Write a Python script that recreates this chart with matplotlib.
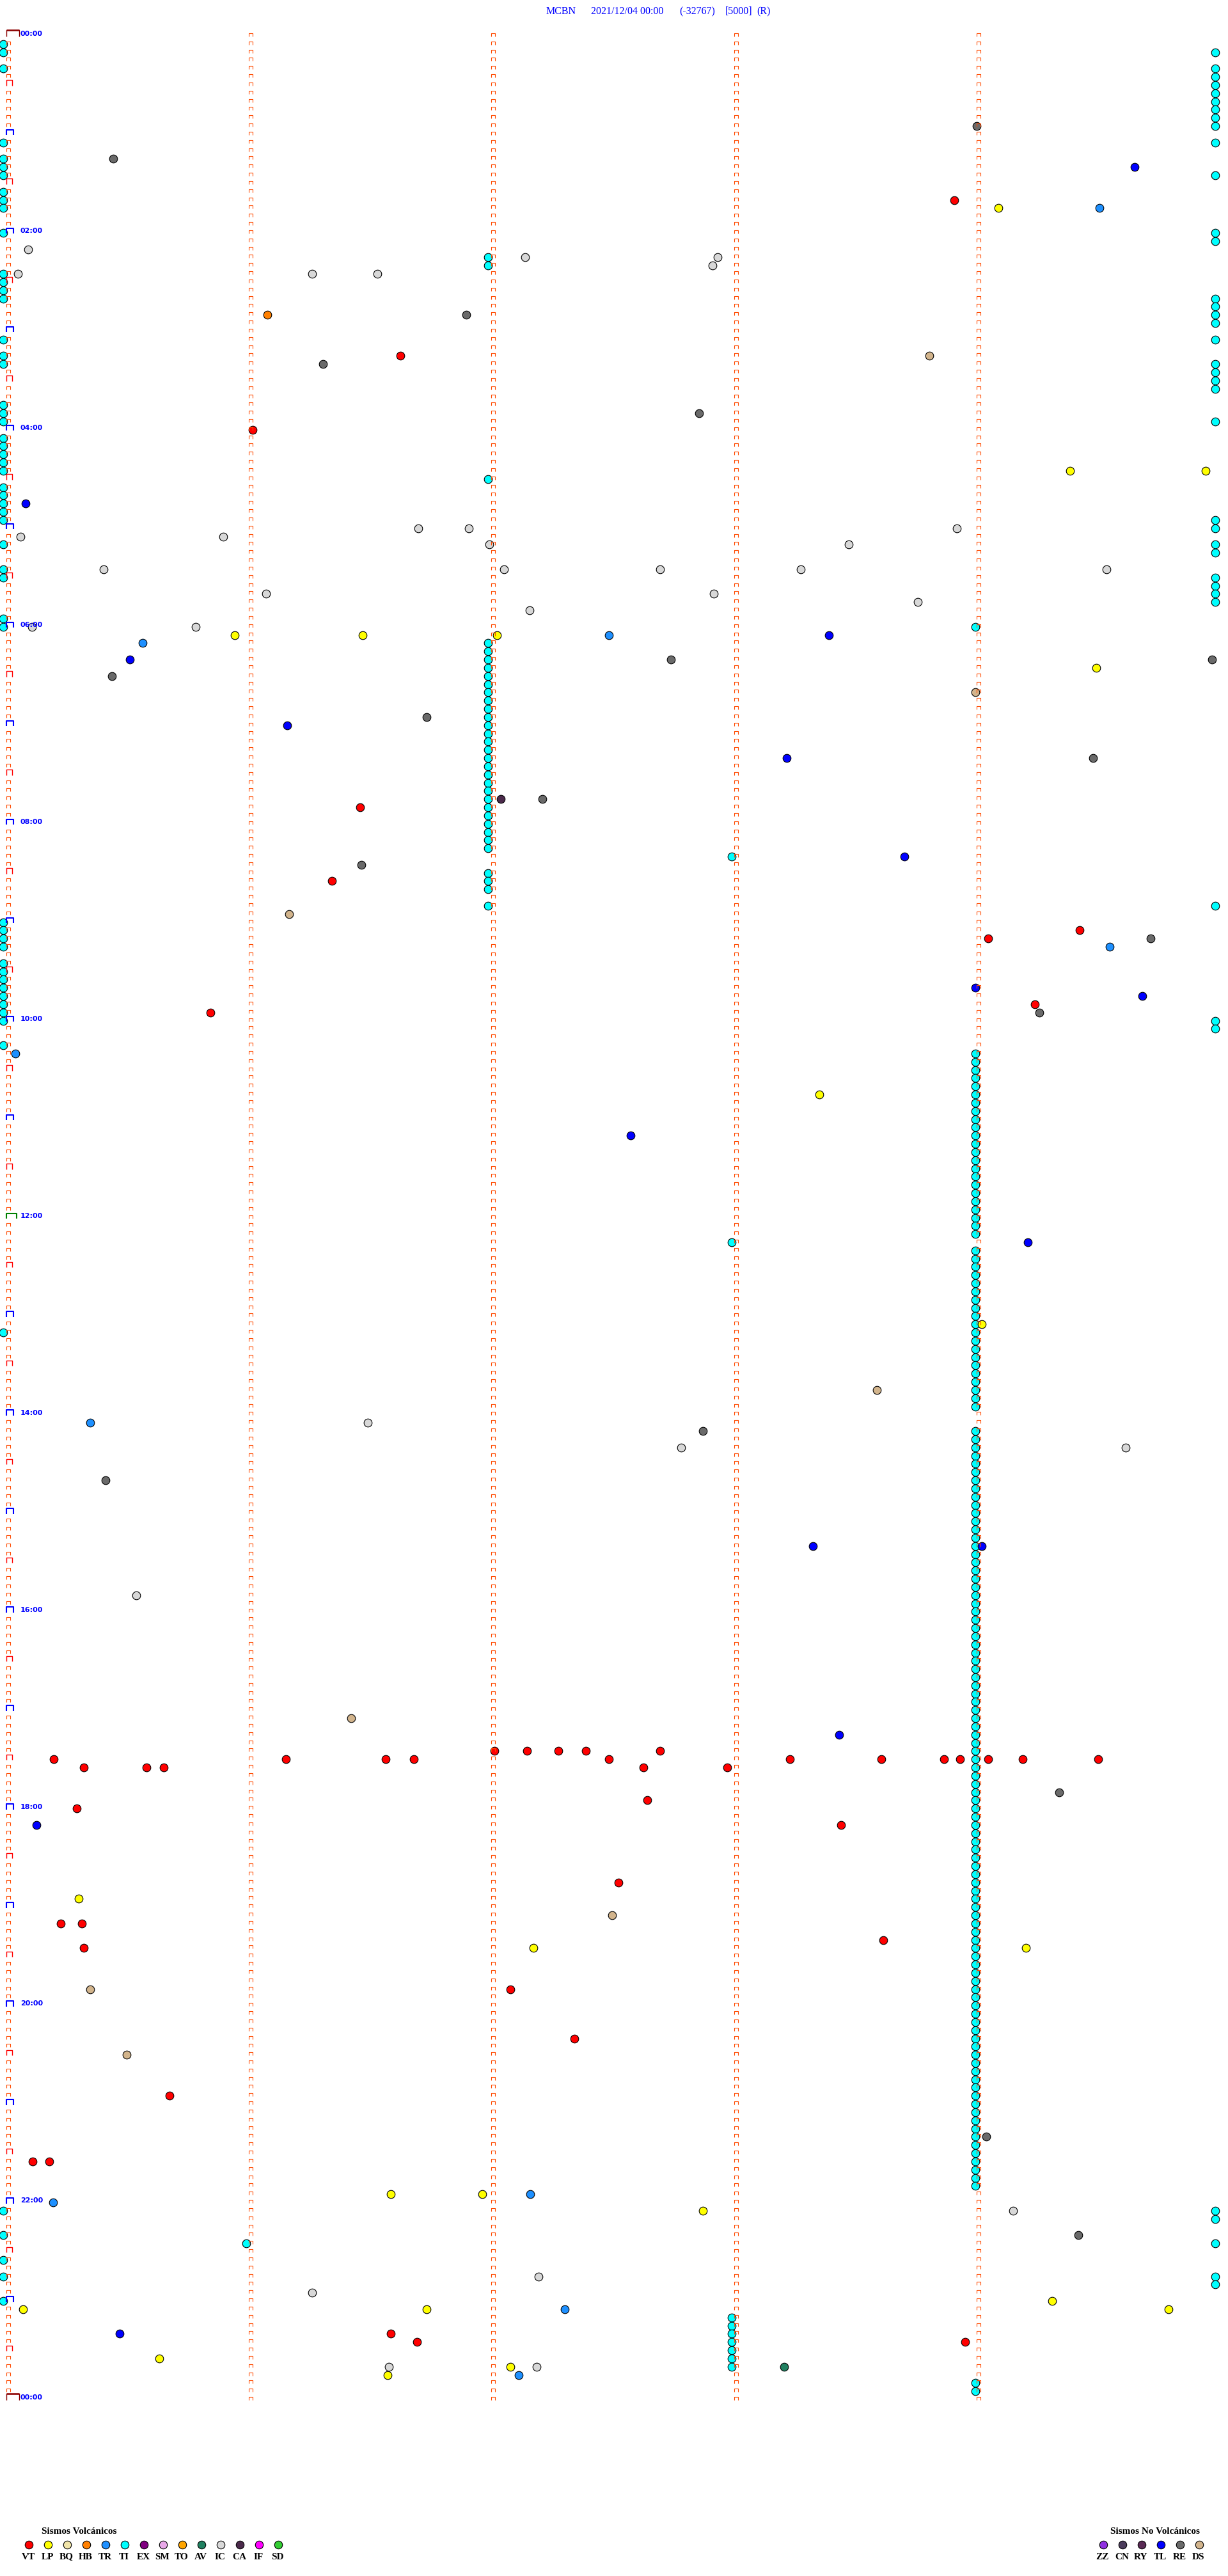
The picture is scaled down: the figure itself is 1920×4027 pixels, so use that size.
import matplotlib

matplotlib.use("Agg")
import matplotlib.pyplot as plt
from matplotlib.collections import LineCollection

# drum layout: every row is 5 minutes, x is seconds inside the row
ROW_SECONDS = 300
N_ROWS = 288

# ---- events: row index (5 min) and second inside row ----
VT_ROWS = [20, 39, 48, 94, 103, 109, 110, 118, 119,
           210, 211, 211, 211, 210, 210, 210, 209, 209, 209, 209, 210, 211, 209,
           211, 210, 210, 210, 210, 210, 210, 210,
           215, 216, 218, 225, 230, 230, 233, 232, 238, 244, 251, 259, 259,
           280, 281, 281]
VT_SECS = [234, 97, 60.5, 87, 80, 265, 242.4, 254, 50,
           11.3, 18.7, 34.1, 38.5, 68.6, 93.4, 100.3, 120.2, 128.3, 136, 142.9, 148.6, 157.1, 161.2,
           177.8, 193.3, 216, 231.5, 235.5, 242.4, 251, 269.6,
           158, 17, 206, 151, 13, 18.2, 18.6, 216.4, 124.2, 140.1, 39.8, 6, 10.1,
           94.6, 101.1, 236.7]

LP_ROWS = [21, 53, 53, 73, 73, 73, 77, 129, 157, 227, 233, 233, 263, 263, 265,
           277, 277, 276, 277, 283, 285, 284]
LP_SECS = [245, 262.7, 296.2, 56, 87.7, 120.9, 269.2, 200.6, 240.8, 17.4, 129.9, 251.8,
           94.6, 117.3, 171.8, 3.6, 103.5, 258.2, 287.1, 37.3, 93.8, 124.2]

HB_ROWS = [34]
HB_SECS = [64.1]

TR_ROWS = [21, 74, 73, 111, 124, 169, 263, 264, 277, 285]
TR_SECS = [270, 33.3, 148.6, 272.5, 1.8, 20.3, 129.1, 11, 137.6, 126.3]

IC_ROWS = [26, 29, 29, 29, 27, 27, 28, 61, 61, 60, 60, 62, 62, 60, 65, 68, 65, 65, 65,
           68, 70, 69, 65, 72, 72, 169, 172, 172, 190, 265, 275, 273, 284, 284]
IC_SECS = [4.9, 2.3, 75.1, 91.3, 127.9, 175.4, 174.2, 3, 53.2, 101.5, 114, 119, 207.9,
           234.7, 23.5, 63.7, 122.6, 161.2, 196.1, 174.6, 129, 225, 271.6, 46.3, 5.9,
           88.9, 166.5, 276.5, 31.6, 248.5, 75.1, 131.1, 94.2, 130.7]

AV_ROWS = [284]
AV_SECS = [192]

CA_ROWS = [93]
CA_SECS = [121.8]

TL_ROWS = [16, 57, 73, 76, 84, 88, 100, 116, 117, 134, 147, 184, 184, 207, 218, 280]
TL_SECS = [278.6, 4.3, 203, 30, 69, 192.5, 221.7, 239.2, 280.6, 153.9, 252.2, 199,
           240.8, 205.5, 6.9, 27.6]

RE_ROWS = [11, 15, 34, 40, 46, 76, 76, 78, 83, 88, 93, 101, 110, 119, 170, 176, 214,
           256, 268]
RE_SECS = [239.6, 26, 113.3, 77.9, 170.9, 297.8, 164, 25.6, 103.5, 268.4, 132.1, 87.3,
           282.6, 255, 171.8, 24, 259.9, 242, 264.7]

DS_ROWS = [39, 80, 107, 165, 205, 229, 238, 246]
DS_SECS = [227.8, 239.2, 69.4, 214.8, 84.8, 149.4, 20.3, 29.2]

# TI (cyan) events, grouped by the column they pile up in
TI_LEFT_SEC = -1.2
TI_LEFT_ROWS = [1, 2, 4, 13, 15, 16, 17, 19, 20, 21, 24, 29, 30, 31, 32, 37, 39, 40,
                45, 46, 47, 49, 50, 51, 52, 53, 55, 56, 57, 58, 59, 62, 65, 66, 71, 72,
                108, 109, 110, 111, 113, 114, 115, 116, 117, 118, 119, 120, 123, 158,
                265, 268, 271, 273, 276]
TI_RIGHT_SEC = 298.5
TI_RIGHT_ROWS = [2, 4, 5, 6, 7, 8, 9, 10, 11, 13, 17, 24, 25, 32, 33, 34, 35, 37, 40,
                 41, 42, 43, 47, 59, 60, 62, 63, 66, 67, 68, 69, 106, 120, 121,
                 265, 266, 269, 273, 274]
TI_A_SEC = 118.7
TI_A_ROWS = [27, 28, 54, 74, 75, 76, 77, 78, 79, 80, 81, 82, 83, 84, 85, 86, 87, 88,
             89, 90, 91, 92, 93, 94, 95, 96, 97, 98, 99, 102, 103, 104, 106]
TI_B_SEC = 179
TI_B_ROWS = [100, 147, 278, 279, 280, 281, 282, 283, 284]
TI_C_SEC = 239.2
TI_C_ROWS = [72,
             124, 125, 126, 127, 128, 129, 130, 131, 132, 133, 134, 135, 136, 137, 138,
             139, 140, 141, 142, 143, 144, 145, 146, 148, 149, 150, 151, 152, 153, 154,
             155, 156, 157, 158, 159, 160, 161, 162, 163, 164, 165, 166, 167, 170, 171,
             172, 173, 174, 175, 176, 177, 178, 179, 180, 181, 182, 183, 184, 185, 186,
             187, 188, 189, 190, 191, 192, 193, 194, 195, 196, 197, 198, 199, 200, 201,
             202, 203, 204, 205, 206, 207, 208, 209, 210, 211, 212, 213, 214, 215, 216,
             217, 218, 219, 220, 221, 222, 223, 224, 225, 226, 227, 228, 229, 230, 231,
             232, 233, 234, 235, 236, 237, 238, 239, 240, 241, 242, 243, 244, 245, 246,
             247, 248, 249, 250, 251, 252, 253, 254, 255, 256, 257, 258, 259, 260, 261,
             262, 286, 287]
TI_OTHER_ROWS = [269]
TI_OTHER_SECS = [58.9]

VOLC_CODES = ["VT", "LP", "BQ", "HB", "TR", "TI", "EX", "SM", "TO", "AV", "IC", "CA", "IF", "SD"]
VOLC_COLORS = ["#ff0000", "#ffff00", "#f0e4a8", "#ff8000", "#1e90ff", "#00ffff", "#800080",
               "#e8a8e8", "#ffa500", "#208060", "#d8d8d8", "#4b2a4b", "#ff00ff", "#33cc33"]
NONV_CODES = ["ZZ", "CN", "RY", "TL", "RE", "DS"]
NONV_COLORS = ["#9030e0", "#4b3b5b", "#5a2a55", "#0000ff", "#6a6a6a", "#d2b48c"]

TITLE_PARTS = ["MCBN", "2021/12/04 00:00", "(-32767)", "[5000]", "(R)"]

# ---- pixel geometry of the drum ----
W, H = 1920, 4027
X0, PX_SEC = 13.0, 6.32          # pixel of second 0, pixels per second
Y0, PX_ROW = 52.0, 12.83         # pixel of row 0, pixels per row
DOT_DROP = 4.0 / PX_ROW          # circles sit a few pixels under the row line


def color_of(code):
    if code in VOLC_CODES:
        return VOLC_COLORS[VOLC_CODES.index(code)]
    return NONV_COLORS[NONV_CODES.index(code)]


def bracket(x_px, row, width_px, top_px, height_px):
    x0 = (x_px - X0) / PX_SEC
    x1 = (x_px + width_px - X0) / PX_SEC
    ytop = row + top_px / PX_ROW
    ybot = ytop + height_px / PX_ROW
    return [(x0, ybot), (x0, ytop), (x1, ytop), (x1, ybot)]


def draw_ticks(ax):
    small, half, hour = [], [], []
    for col in range(5):
        xc = X0 + col * 60 * PX_SEC
        for row in range(N_ROWS + 1):
            if col == 0 and row % 6 == 0:
                continue
            small.append(bracket(xc - 3, row, 6, 0, 5))
    for row in range(6, N_ROWS, 12):
        half.append(bracket(10, row, 8.5, -3.5, 8.5))
    for row in range(12, N_ROWS, 12):
        if row != 144:
            hour.append(bracket(9.5, row, 11, -3, 8.5))
    ax.add_collection(LineCollection(small, colors="#ff4a00", linewidths=0.8, zorder=5))
    ax.add_collection(LineCollection(half, colors="#ff0000", linewidths=1.0, zorder=5))
    ax.add_collection(LineCollection(hour, colors="#0000ff", linewidths=1.5, zorder=5))
    ax.add_collection(LineCollection([bracket(9.5, 144, 16, -3, 8.5)],
                                     colors="#008000", linewidths=1.5, zorder=5))
    ends = [bracket(9.5, 0, 20, -5, 10), bracket(9.5, N_ROWS, 20, -5, 10)]
    ax.add_collection(LineCollection(ends, colors="#8b0000", linewidths=1.0, zorder=5))
    ax.add_collection(LineCollection([[(e[1][0], e[1][1]), (e[2][0], e[2][1])] for e in ends],
                                     colors="#8b0000", linewidths=1.8, zorder=5))
    for row in range(0, N_ROWS + 1, 24):
        ax.text((32 - X0) / PX_SEC, row + 0.1, "%02d:00" % ((row // 12) % 24),
                color="#0000ff", fontsize=8, fontweight="bold", ha="left", va="center",
                zorder=6)


def dots(ax, rows, secs, code):
    ax.scatter(secs, [r + DOT_DROP for r in rows], s=82, c=color_of(code),
               edgecolors="black", linewidths=0.8, zorder=3)


def main():
    fig = plt.figure(figsize=(W / 100, H / 100), dpi=100)
    ax = fig.add_axes([0, 0, 1, 1])
    ax.set_xlim(-X0 / PX_SEC, (W - X0) / PX_SEC)
    ax.set_ylim((H - Y0) / PX_ROW, -Y0 / PX_ROW)
    ax.axis("off")

    draw_ticks(ax)

    dots(ax, TI_LEFT_ROWS, [TI_LEFT_SEC] * len(TI_LEFT_ROWS), "TI")
    dots(ax, TI_RIGHT_ROWS, [TI_RIGHT_SEC] * len(TI_RIGHT_ROWS), "TI")
    dots(ax, TI_A_ROWS, [TI_A_SEC] * len(TI_A_ROWS), "TI")
    dots(ax, TI_B_ROWS, [TI_B_SEC] * len(TI_B_ROWS), "TI")
    dots(ax, TI_C_ROWS, [TI_C_SEC] * len(TI_C_ROWS), "TI")
    dots(ax, TI_OTHER_ROWS, TI_OTHER_SECS, "TI")
    dots(ax, IC_ROWS, IC_SECS, "IC")
    dots(ax, RE_ROWS, RE_SECS, "RE")
    dots(ax, DS_ROWS, DS_SECS, "DS")
    dots(ax, HB_ROWS, HB_SECS, "HB")
    dots(ax, CA_ROWS, CA_SECS, "CA")
    dots(ax, AV_ROWS, AV_SECS, "AV")
    dots(ax, TR_ROWS, TR_SECS, "TR")
    dots(ax, TL_ROWS, TL_SECS, "TL")
    dots(ax, LP_ROWS, LP_SECS, "LP")
    dots(ax, VT_ROWS, VT_SECS, "VT")

    # header and legends in plain pixel coordinates
    pix = fig.add_axes([0, 0, 1, 1], facecolor="none")
    pix.set_xlim(0, W)
    pix.set_ylim(H, 0)
    pix.axis("off")

    for text, x in zip(TITLE_PARTS, [854, 924, 1062, 1134, 1183]):
        pix.text(x, 18, text, color="#0000ff", fontsize=11.5, family="Liberation Serif",
                 ha="left", va="center")

    serif = "Liberation Serif"
    pix.text(124, 3957, "Sismos Volcánicos", fontsize=11, fontweight="bold",
             family=serif, ha="center", va="center")
    for i, (code, col) in enumerate(zip(VOLC_CODES, VOLC_COLORS)):
        x = 45 + 30 * i
        pix.scatter([x], [3978], s=80, c=col, edgecolors="black", linewidths=0.8)
        pix.text(x - 1, 3997, code, fontsize=11, fontweight="bold", family=serif,
                 ha="center", va="center")

    pix.text(1806, 3957, "Sismos No Volcánicos", fontsize=11, fontweight="bold",
             family=serif, ha="center", va="center")
    for i, (code, col) in enumerate(zip(NONV_CODES, NONV_COLORS)):
        x = 1725 + 30 * i
        pix.scatter([x], [3978], s=80, c=col, edgecolors="black", linewidths=0.8)
        pix.text(x - 1, 3997, code, fontsize=11, fontweight="bold", family=serif,
                 ha="center", va="center")

    fig.savefig("out.png", dpi=100, facecolor="white")
    plt.close(fig)


if __name__ == "__main__":
    main()
